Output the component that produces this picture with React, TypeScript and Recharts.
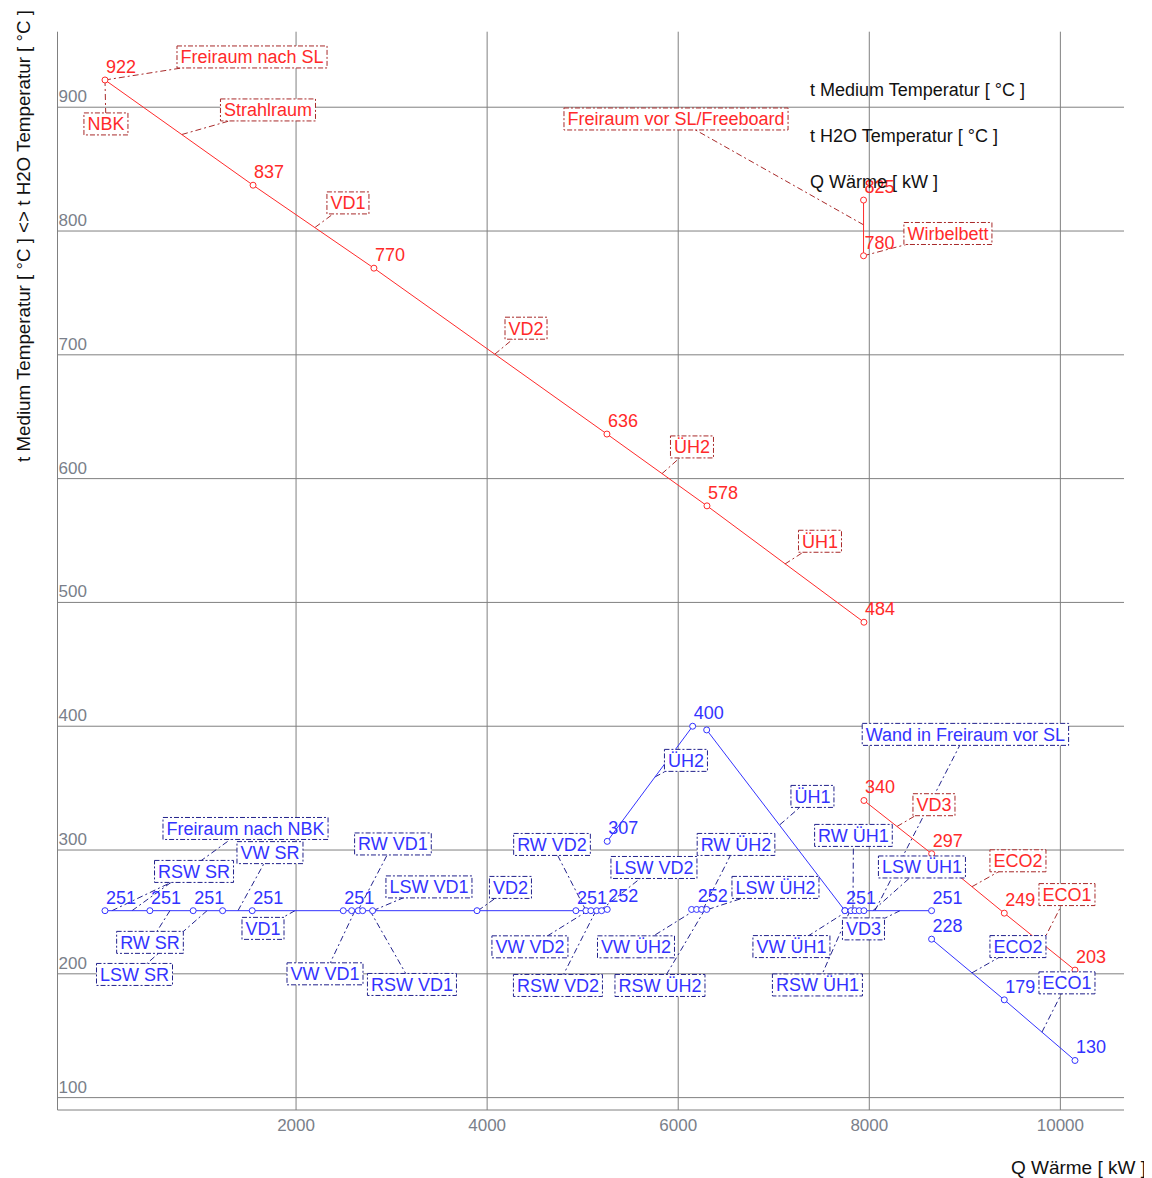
import React from "react"
import { ComposedChart, Line, Scatter, XAxis, YAxis, CartesianGrid, LabelList } from "recharts"

// Flue gas side (t Medium), Q in kW, t in °C
const gasMain = [
  { q: 0, t: 922, lbl: "922" },
  { q: 1550, t: 837, lbl: "837" },
  { q: 2815, t: 770, lbl: "770" },
  { q: 5254, t: 636, lbl: "636" },
  { q: 6301, t: 578, lbl: "578" },
  { q: 7944, t: 484, lbl: "484" },
]
const gasBed = [
  { q: 7940, t: 825, lbl: "825" },
  { q: 7940, t: 780, lbl: "780" },
]
const gasTail = [
  { q: 7944, t: 340, lbl: "340" },
  { q: 8653, t: 297, lbl: "297" },
  { q: 9413, t: 249, lbl: "249" },
  { q: 10153, t: 203, lbl: "203" },
]

// Water / steam side (t H2O)
const waterEvap = [
  { q: 0, t: 251, lbl: "251" },
  { q: 470, t: 251, lbl: "251" },
  { q: 923, t: 251, lbl: "251" },
  { q: 1231, t: 251 },
  { q: 1541, t: 251, lbl: "251" },
  { q: 2494, t: 251, lbl: "251" },
  { q: 2582, t: 251 },
  { q: 2651, t: 251 },
  { q: 2697, t: 251 },
  { q: 2801, t: 251 },
  { q: 3894, t: 251 },
  { q: 4929, t: 251, lbl: "251" },
  { q: 5034, t: 251 },
  { q: 5086, t: 251 },
  { q: 5146, t: 251 },
  { q: 5198, t: 251 },
  { q: 5257, t: 252, lbl: "252" },
]
const waterUh2 = [
  { q: 5257, t: 307, lbl: "307" },
  { q: 6151, t: 400, lbl: "400" },
]
const waterUhEvap = [
  { q: 6140, t: 252 },
  { q: 6193, t: 252, lbl: "252" },
  { q: 6245, t: 252 },
  { q: 6298, t: 252 },
]
const waterUh1 = [
  { q: 6298, t: 397 },
  { q: 7745, t: 251 },
]
const waterVd3 = [
  { q: 7745, t: 251, lbl: "251" },
  { q: 7808, t: 251 },
  { q: 7850, t: 251 },
  { q: 7895, t: 251 },
  { q: 7944, t: 251 },
  { q: 8652, t: 251, lbl: "251" },
]
const waterEco = [
  { q: 8652, t: 228, lbl: "228" },
  { q: 9413, t: 179, lbl: "179" },
  { q: 10153, t: 130, lbl: "130" },
]

// annotations: box at (q, t), leader to (aq, at)
const gasNotes = [
  { text: "Freiraum nach SL", q: 1539, t: 940.6, aq: 0, at: 922 },
  { text: "NBK", q: 10, t: 886.5, aq: 0, at: 922 },
  { text: "Strahlraum", q: 1706, t: 897.8, aq: 806, at: 878 },
  { text: "VD1", q: 2543, t: 822.7, aq: 2200, at: 803 },
  { text: "VD2", q: 4407, t: 721.5, aq: 4080, at: 700.5 },
  { text: "ÜH2", q: 6144, t: 625.6, aq: 5830, at: 604 },
  { text: "ÜH1", q: 7484, t: 549.4, aq: 7117, at: 531 },
  { text: "Freiraum vor SL/Freeboard", q: 5977, t: 890.5, aq: 7940, at: 805 },
  { text: "Wirbelbett", q: 8823, t: 798, aq: 7940, at: 780 },
  { text: "VD3", q: 8677, t: 336.6, aq: 8290, at: 319 },
  { text: "ECO2", q: 9556, t: 291.3, aq: 9075, at: 270.4 },
  { text: "ECO1", q: 10069, t: 264, aq: 9807, at: 224.5 },
]
const waterNotes = [
  { text: "Freiraum nach NBK", q: 1471, t: 317.4, aq: 283, at: 251 },
  { text: "RSW SR", q: 932, t: 282.7, aq: 73, at: 251 },
  { text: "VW SR", q: 1727, t: 297.9, aq: 1392, at: 251 },
  { text: "RW SR", q: 471, t: 225.4, aq: 680, at: 251 },
  { text: "LSW SR", q: 309, t: 199.5, aq: 1068, at: 251 },
  { text: "VD1", q: 1654, t: 236.7, aq: 1989, at: 251 },
  { text: "RW VD1", q: 3014, t: 304.9, aq: 2648, at: 251 },
  { text: "LSW VD1", q: 3391, t: 270.2, aq: 2805, at: 251 },
  { text: "VW VD1", q: 2303, t: 200, aq: 2617, at: 251 },
  { text: "RSW VD1", q: 3213, t: 191.4, aq: 2774, at: 251 },
  { text: "VD2", q: 4244, t: 269.8, aq: 3904, at: 251 },
  { text: "RW VD2", q: 4679, t: 304.5, aq: 5035, at: 251 },
  { text: "LSW VD2", q: 5746, t: 285.9, aq: 5181, at: 251 },
  { text: "VW VD2", q: 4448, t: 221.8, aq: 5056, at: 251 },
  { text: "RSW VD2", q: 4741, t: 190.6, aq: 5139, at: 251 },
  { text: "ÜH2", q: 6081, t: 372.4, aq: 5756, at: 359 },
  { text: "RW ÜH2", q: 6605, t: 304.5, aq: 6259, at: 252 },
  { text: "LSW ÜH2", q: 7018, t: 269.8, aq: 6311, at: 252 },
  { text: "VW ÜH2", q: 5558, t: 221.8, aq: 6186, at: 252 },
  { text: "RSW ÜH2", q: 5809, t: 190.6, aq: 6280, at: 252 },
  { text: "ÜH1", q: 7405, t: 343.3, aq: 7065, at: 320.5 },
  { text: "RW ÜH1", q: 7834, t: 311.8, aq: 7829, at: 251 },
  { text: "LSW ÜH1", q: 8551, t: 286.3, aq: 8038, at: 251 },
  { text: "VW ÜH1", q: 7185, t: 222, aq: 7777, at: 251 },
  { text: "RSW ÜH1", q: 7457, t: 191, aq: 7798, at: 251 },
  { text: "VD3", q: 7939, t: 236.3, aq: 8321, at: 251 },
  { text: "Wand in Freiraum vor SL", q: 9006, t: 393.4, aq: 8059, at: 251 },
  { text: "ECO2", q: 9556, t: 222, aq: 9075, at: 200.8 },
  { text: "ECO1", q: 10069, t: 192.7, aq: 9807, at: 152.9 },
]

const xTicks = [2000, 4000, 6000, 8000, 10000]
const yTicks = [100, 200, 300, 400, 500, 600, 700, 800, 900]

const FONT = "'Liberation Sans', Arial, sans-serif"
const RED = "#ff2a2a"
const RED_DARK = "#a82a2a"
const BLUE = "#3333ff"
const BLUE_DARK = "#22228c"
const GRID = "#808080"
const TICK = "#7a7f8a"

let measureCtx: CanvasRenderingContext2D | null = null
function textWidth(s: string) {
  if (!measureCtx) measureCtx = document.createElement("canvas").getContext("2d")
  if (!measureCtx) return s.length * 10
  measureCtx.font = `18px 'Liberation Sans'`
  return measureCtx.measureText(s).width
}

const pointLabel = (color: string) => (p: any) =>
  p.value ? (
    <text x={p.x + 1} y={p.y - 7} fill={color} fontSize={18} fontFamily={FONT}>
      {p.value}
    </text>
  ) : null

const noteBox = (fg: string, border: string) => (props: any) => {
  const { cx, cy, payload } = props
  const w = textWidth(payload.text) + 7
  return (
    <g>
      <rect x={cx - w / 2} y={cy - 11} width={w} height={22} fill="#fff" stroke={border} strokeDasharray="5 2 2 2" />
      <text x={cx} y={cy + 6.5} textAnchor="middle" fill={fg} fontSize={18} fontFamily={FONT}>
        {payload.text}
      </text>
    </g>
  )
}

const dot = (color: string) => ({ r: 3, fill: "#fff", stroke: color, strokeWidth: 1 })

export default function App() {
  const W = 1140
  const H = 1170
  const series = [
    { name: "gasMain", data: gasMain, color: RED },
    { name: "gasBed", data: gasBed, color: RED },
    { name: "gasTail", data: gasTail, color: RED },
    { name: "waterEvap", data: waterEvap, color: BLUE },
    { name: "waterUh2", data: waterUh2, color: BLUE },
    { name: "waterUhEvap", data: waterUhEvap, color: BLUE },
    { name: "waterUh1", data: waterUh1, color: BLUE },
    { name: "waterVd3", data: waterVd3, color: BLUE },
    { name: "waterEco", data: waterEco, color: BLUE },
  ]
  const leaders = [
    ...gasNotes.map((n) => ({ ...n, color: RED_DARK })),
    ...waterNotes.map((n) => ({ ...n, color: BLUE_DARK })),
  ]

  return (
    <div style={{ position: "relative", width: W, height: H, fontFamily: FONT }}>
      <ComposedChart width={W} height={H} margin={{ top: 23.7, right: 24, bottom: 38, left: 49.5 }}>
        <CartesianGrid stroke={GRID} syncWithTicks />
        <XAxis
          type="number"
          dataKey="q"
          domain={[-497, 10666]}
          ticks={xTicks}
          interval={0}
          allowDataOverflow
          height={30}
          stroke={GRID}
          tickLine={false}
          tickSize={0}
          tickMargin={0}
          tick={(p: any) => (
            <text x={p.x} y={p.y + 21} textAnchor="middle" fill={TICK} fontSize={17} fontFamily={FONT}>
              {p.payload.value}
            </text>
          )}
        />
        <YAxis
          type="number"
          dataKey="t"
          domain={[90, 961]}
          ticks={yTicks}
          interval={0}
          allowDataOverflow
          mirror
          stroke={GRID}
          tickLine={false}
          tickSize={0}
          tickMargin={0}
          tick={(p: any) => (
            <text x={p.x + 1} y={p.y - 5} textAnchor="start" fill={TICK} fontSize={17} fontFamily={FONT}>
              {p.payload.value}
            </text>
          )}
        />
        {leaders.map((n, i) => (
          <Line
            key={"lead" + i}
            name={"lead" + i}
            data={[
              { q: n.aq, t: n.at },
              { q: n.q, t: n.t },
            ]}
            dataKey="t"
            stroke={n.color}
            strokeWidth={1}
            strokeDasharray="6 3 2 3"
            dot={false}
            activeDot={false}
            legendType="none"
            isAnimationActive={false}
          />
        ))}
        {series.map((s) => (
          <Line
            key={s.name}
            name={s.name}
            data={s.data}
            dataKey="t"
            stroke={s.color}
            strokeWidth={1}
            dot={dot(s.color)}
            activeDot={false}
            isAnimationActive={false}
          >
            <LabelList dataKey="lbl" content={pointLabel(s.color)} />
          </Line>
        ))}
        <Scatter name="gasNotes" data={gasNotes} dataKey="t" shape={noteBox(RED, RED_DARK)} isAnimationActive={false} />
        <Scatter name="waterNotes" data={waterNotes} dataKey="t" shape={noteBox(BLUE, BLUE_DARK)} isAnimationActive={false} />
      </ComposedChart>
      <svg
        width={W}
        height={H}
        style={{ position: "absolute", left: 0, top: 0, pointerEvents: "none", overflow: "visible" }}
      >
        <text
          transform="rotate(-90)"
          x={-454}
          y={22}
          fontSize={19}
          textLength={452}
          lengthAdjust="spacingAndGlyphs"
          fill="#111"
          fontFamily={FONT}
        >
          t Medium Temperatur [ °C ] &lt;&gt; t H2O Temperatur [ °C ]
        </text>
        <text x={1138} y={1166} textAnchor="end" fontSize={19} fill="#111" fontFamily={FONT}>
          Q Wärme [ kW ]
        </text>
        <text x={802} y={87.5} fontSize={18} fill="#111" fontFamily={FONT}>
          t Medium Temperatur [ °C ]
        </text>
        <text x={802} y={133.7} fontSize={18} fill="#111" fontFamily={FONT}>
          t H2O Temperatur [ °C ]
        </text>
        <text x={802} y={180.3} fontSize={18} fill="#111" fontFamily={FONT}>
          Q Wärme [ kW ]
        </text>
      </svg>
    </div>
  )
}
